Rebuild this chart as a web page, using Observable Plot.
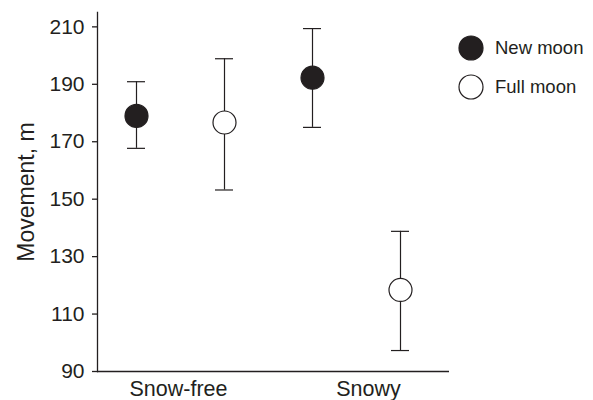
<!DOCTYPE html>
<html><head><meta charset="utf-8">
<script src="https://cdn.jsdelivr.net/npm/d3@7"></script>
<script src="https://cdn.jsdelivr.net/npm/@observablehq/plot@0.6"></script>
<style>
body{margin:0;background:#fff;font-family:"Liberation Sans",Arial,sans-serif;}
#wrap{position:relative;width:593px;height:400px;}
#legend{position:absolute;left:457px;top:28px;font-size:18.5px;color:#231f20;}
.item{display:flex;align-items:center;height:39px;}
.item svg{margin-right:10px;}
</style></head><body><div id="wrap"><div id="legend"></div></div>
<script>
const conditionOrder = ["Snow-free", "Snowy"];
const phaseOrder = ["New moon", "Full moon"];
const conditions = ["Snow-free", "Snow-free", "Snowy", "Snowy"];
const phases = ["New moon", "Full moon", "New moon", "Full moon"];
const means = [179.0, 176.7, 192.3, 118.4];
const lower = [167.7, 153.2, 175.0, 97.3];
const upper = [190.9, 198.9, 209.4, 138.8];
const yTicks = [90, 110, 130, 150, 170, 190, 210];

const ink = "#231f20";
const data = conditions.map((c, i) => ({condition: c, phase: phases[i], mean: means[i], lo: lower[i], hi: upper[i]}));

const plot = Plot.plot({
  width: 593, height: 400,
  marginLeft: 97, marginRight: 144, marginTop: 12, marginBottom: 29,
  style: {fontFamily: '"Liberation Sans", Arial, sans-serif', fontSize: "21px", color: ink, background: "#fff"},
  fx: {domain: conditionOrder, padding: 0, label: null},
  x: {domain: phaseOrder, axis: null, paddingInner: 0.8, paddingOuter: 0.4, align: 0.42},
  y: {domain: [90, 215], label: null},
  color: {domain: phaseOrder, range: [ink, "#ffffff"]},
  marks: [
    Plot.ruleY([90], {stroke: ink, strokeWidth: 1.3}),
    Plot.frame({anchor: "left", facetAnchor: "left", stroke: ink, strokeWidth: 1.3}),
    Plot.axisY({ticks: yTicks, tickSize: 5, tickPadding: 8, fontSize: 21, strokeWidth: 1.3,
      label: "Movement, m", labelAnchor: "center", labelOffset: 80, labelArrow: "none"}),
    Plot.axisFx({ticks: [conditionOrder[0]], anchor: "bottom", tickSize: 0, tickPadding: 9, fontSize: 21.5, dx: -7, label: null}),
    Plot.axisFx({ticks: [conditionOrder[1]], anchor: "bottom", tickSize: 0, tickPadding: 9, fontSize: 21.5, dx: 7, label: null}),
    Plot.ruleX(data, {fx: "condition", x: "phase", y1: "lo", y2: "hi", stroke: ink, strokeWidth: 1.2}),
    Plot.tickY(data, {fx: "condition", x: "phase", y: "lo", stroke: ink, strokeWidth: 1.2}),
    Plot.tickY(data, {fx: "condition", x: "phase", y: "hi", stroke: ink, strokeWidth: 1.2}),
    Plot.dot(data, {fx: "condition", x: "phase", y: "mean", r: 11.5, fill: "phase", stroke: ink, strokeWidth: 1.2})
  ]
});
document.getElementById("wrap").prepend(plot);

// y-axis label a bit larger than tick labels
plot.querySelectorAll("text").forEach(t => {
  if (t.textContent.trim() === "Movement, m") t.setAttribute("font-size", "23");
});

const legend = document.getElementById("legend");
phaseOrder.forEach(p => {
  const item = document.createElement("div");
  item.className = "item";
  const fill = plot.scale("color").apply(p);
  item.innerHTML = `<svg width="28" height="28"><circle cx="14" cy="14" r="12" fill="${fill}" stroke="${ink}" stroke-width="1.2"/></svg><span>${p}</span>`;
  legend.appendChild(item);
});
</script>
</body></html>
